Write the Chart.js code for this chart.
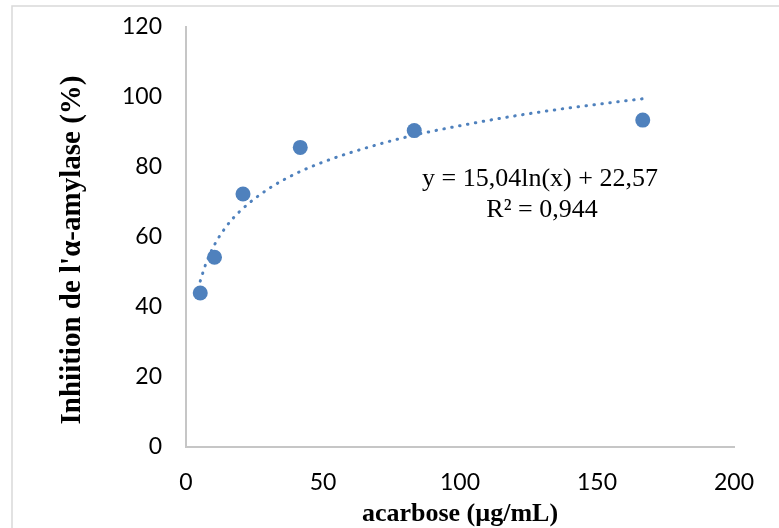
<!DOCTYPE html>
<html lang="fr">
<head>
  <meta charset="UTF-8">
  <title>Inhibition de l'α-amylase - acarbose</title>
  <script src="https://cdn.jsdelivr.net/npm/chart.js"></script>
  <style>
    html, body { margin: 0; padding: 0; background: #fff; }
    #wrap { width: 779px; height: 528px; }
  </style>
</head>
<body>
  <div id="wrap"><canvas id="chart" width="779" height="528"></canvas></div>

  <script>
    // concentrations d'acarbose (µg/mL) et % d'inhibition
    const concentrations = [5.2, 10.4, 20.8, 41.7, 83.3, 166.7];
    const inhibition = [44.0, 54.2, 72.3, 85.6, 90.4, 93.4];

    // courbe de tendance (pointillés)
    const trendX = [5.2, 7, 10, 15, 20, 30, 40, 50, 60, 80, 100, 120, 140, 166.7];
    const trendY = [47.4, 51.8, 57.2, 63.3, 67.6, 73.7, 78.1, 81.4, 84.1, 88.5, 91.8, 94.6, 96.9, 99.5];

    const equation = ['y = 15,04ln(x) + 22,57', 'R² = 0,944'];
    const yTitle = "Inhiition de l'α-amylase (%)";

    const blue = '#4f81bd';
    const tickFont = { family: 'Lato', size: 23 };
    const titleFont = { family: 'Liberation Serif', size: 26, weight: 'bold', lineHeight: 1 };

    // cadre gris, titre vertical et équation
    const extras = {
      id: 'extras',
      beforeDraw(chart) {
        const c = chart.ctx;
        c.save();
        c.strokeStyle = '#d9d9d9';
        c.lineWidth = 1.5;
        c.beginPath();
        c.moveTo(12, 540);
        c.lineTo(12, 6);
        c.lineTo(790, 6);
        c.stroke();
        c.restore();
      },
      afterDatasetsDraw(chart) {
        const c = chart.ctx;
        const x = chart.scales.x.getPixelForValue(129.2);
        const y = chart.scales.y.getPixelForValue(76.6);
        c.save();
        c.fillStyle = '#000';
        c.font = '26px "Liberation Serif"';
        c.textAlign = 'center';
        c.textBaseline = 'middle';
        c.fillText(equation[0], x, y);
        c.fillText(equation[1], x + 2, y + 31);

        c.translate(73, 250);
        c.rotate(-Math.PI / 2);
        c.font = 'bold 29px "Liberation Serif"';
        c.fillText(yTitle, 0, 0);
        c.restore();
      }
    };

    const ctx = document.getElementById('chart').getContext('2d');
    new Chart(ctx, {
      type: 'scatter',
      data: {
        datasets: [
          {
            label: 'Inhibition',
            data: concentrations.map((x, i) => ({ x: x, y: inhibition[i] })),
            backgroundColor: blue,
            borderColor: blue,
            pointRadius: 7.5,
            pointBorderWidth: 0,
            showLine: false,
            order: 1
          },
          {
            label: 'Tendance',
            data: trendX.map((x, i) => ({ x: x, y: trendY[i] })),
            borderColor: blue,
            borderWidth: 3,
            borderDash: [0.5, 7.5],
            borderCapStyle: 'round',
            showLine: true,
            pointRadius: 0,
            cubicInterpolationMode: 'monotone',
            order: 2
          }
        ]
      },
      options: {
        responsive: false,
        animation: false,
        layout: { padding: { left: 0, right: 45, top: 27, bottom: 0 } },
        plugins: { legend: { display: false }, tooltip: { enabled: false } },
        scales: {
          x: {
            type: 'linear',
            min: 0, max: 200,
            afterFit(s) { s.height = 81; s.paddingLeft = 0; s.paddingRight = 0; },
            ticks: { stepSize: 50, padding: 22, color: '#000', font: tickFont },
            grid: { display: false, drawTicks: false },
            border: { color: '#c6c6c6', width: 2 },
            title: { display: true, text: 'acarbose (µg/mL)', color: '#000', font: titleFont, padding: { top: 0, bottom: 1 } }
          },
          y: {
            min: 0, max: 120,
            afterFit(s) { s.width = 186; s.paddingTop = 0; s.paddingBottom = 0; },
            ticks: { stepSize: 20, padding: 24, color: '#000', font: tickFont },
            grid: { display: false, drawTicks: false },
            border: { color: '#c6c6c6', width: 2 }
          }
        }
      },
      plugins: [extras]
    });
  </script>
</body>
</html>
